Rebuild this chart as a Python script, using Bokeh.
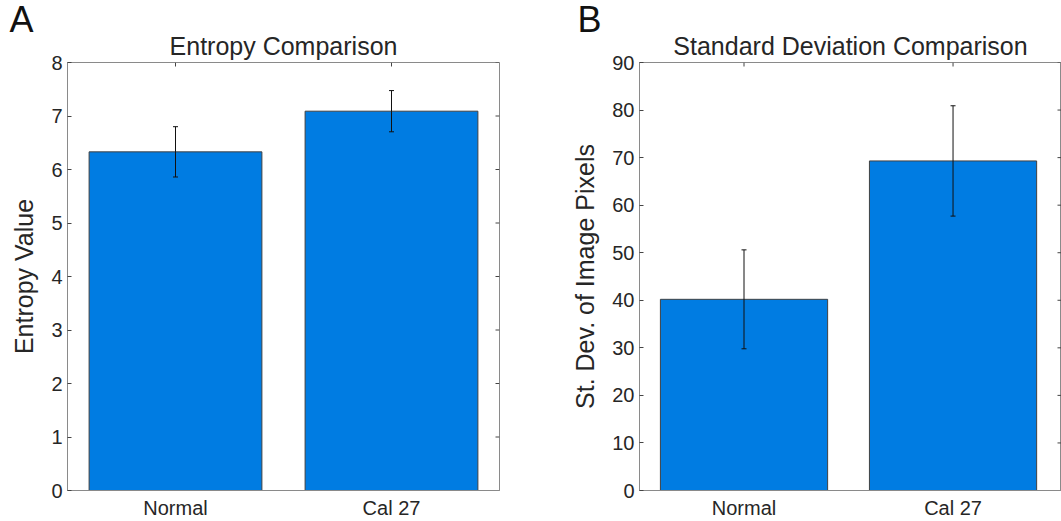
import math
from bokeh.plotting import figure
from bokeh.models import Range1d, FixedTicker, Whisker, TeeHead, ColumnDataSource, Title
from bokeh.layouts import row
from bokeh.embed import file_html
from bokeh.resources import INLINE

categories = ["Normal", "Cal 27"]
entropy_mean = [6.33, 7.09]
entropy_err = [0.47, 0.385]
std_mean = [40.2, 69.3]
std_err = [10.4, 11.6]

FONT = "Liberation Sans"
TEXT = "#262626"
AXIS = "#8a8a8a"
TICK = "#444444"
BAR = "#007ce2"


def panel(letter, title, ylabel, means, errs, ymax, ystep, width, left, right, xend, letter_dx):
    xs = list(range(1, len(categories) + 1))
    src = ColumnDataSource(dict(
        x=xs, top=means,
        upper=[m + e for m, e in zip(means, errs)],
        lower=[m - e for m, e in zip(means, errs)],
    ))
    p = figure(width=width, height=521, output_backend="svg", toolbar_location=None,
               title=None,
               x_range=Range1d(0.5, xend), y_range=Range1d(0, ymax),
               min_border_left=left, min_border_right=right,
               min_border_top=62, min_border_bottom=30)
    p.background_fill_color = "white"
    p.border_fill_color = "white"
    p.outline_line_color = AXIS
    p.outline_line_width = 1
    p.xgrid.visible = False
    p.ygrid.visible = False

    p.add_layout(Title(text=title, align="center", vertical_align="bottom", text_font=FONT,
                       text_font_style="normal", text_font_size="25px", text_color=TEXT,
                       standoff=6), "above")
    p.add_layout(Title(text=letter, align="left", offset=letter_dx, text_font=FONT,
                       text_font_style="normal", text_font_size="36px", text_color="#111111",
                       standoff=-26), "above")

    p.vbar(x="x", top="top", width=0.8, source=src, fill_color=BAR,
           line_color="#404040", line_width=1)
    w = Whisker(base="x", upper="upper", lower="lower", source=src, level="overlay",
                line_color="#111111", line_width=1,
                upper_head=TeeHead(size=5, line_color="#111111", line_width=1),
                lower_head=TeeHead(size=5, line_color="#111111", line_width=1))
    p.add_layout(w)

    yt = list(range(0, int(ymax) + 1, ystep))
    xa = p.xaxis[0]
    xa.ticker = FixedTicker(ticks=xs)
    xa.major_label_overrides = {x: c for x, c in zip(xs, categories)}
    ya = p.yaxis[0]
    ya.ticker = FixedTicker(ticks=yt)
    ya.axis_label = ylabel
    ya.axis_label_standoff = 10
    ya.axis_label_text_font = FONT
    ya.axis_label_text_font_style = "normal"
    ya.axis_label_text_font_size = "25px"
    ya.axis_label_text_color = TEXT
    for ax in (xa, ya):
        ax.axis_line_color = AXIS
        ax.major_tick_line_color = TICK
        ax.major_tick_in = 4
        ax.major_tick_out = 0
        ax.minor_tick_line_color = None
        ax.major_label_text_font = FONT
        ax.major_label_text_font_size = "20px"
        ax.major_label_text_color = TEXT
        ax.major_label_standoff = 6
    xa.major_tick_in = 0
    ya.major_label_standoff = 5

    # mirrored ticks on top and right edges of the box
    p.ray(x=xs, y=[ymax] * len(xs), length=4, length_units="screen",
          angle=-math.pi / 2, line_color=TICK, line_width=1)
    p.ray(x=[xend] * len(yt), y=yt, length=4, length_units="screen",
          angle=math.pi, line_color=TICK, line_width=1)
    return p


pa = panel("A", "Entropy Comparison", "Entropy Value", entropy_mean, entropy_err,
           8, 1, 568, 67, 69, 2.5, -58)
pb = panel("B", "Standard Deviation Comparison", "St. Dev. of Image Pixels", std_mean, std_err,
           90, 10, 493, 65, 0, 0.5 + 428 / 212, -62)

layout = row(pa, pb)
open("out.html", "w").write(file_html(layout, INLINE))
